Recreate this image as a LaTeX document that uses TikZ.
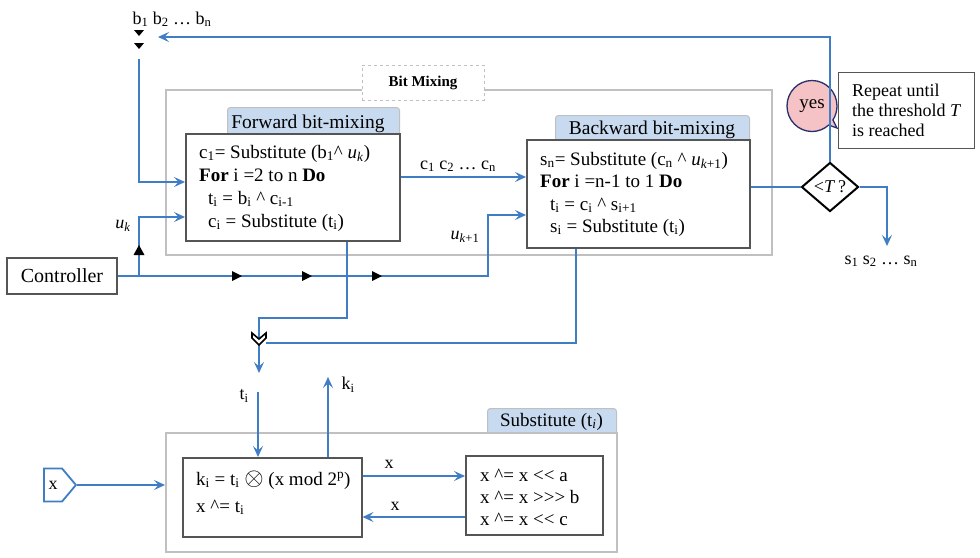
\documentclass[tikz,border=0pt]{standalone}
\usepackage{fontspec}
\setmainfont{Liberation Serif}
\usetikzlibrary{arrows.meta,shapes.geometric,shapes.callouts,shapes.symbols,calc}
\definecolor{flow}{HTML}{3F7DC4}
\definecolor{tabfill}{HTML}{C8DAF0}
\definecolor{cgray}{HTML}{C0C0C0}
\definecolor{bgray}{HTML}{555555}
\definecolor{yesfill}{HTML}{F5C3C6}
\definecolor{yesline}{HTML}{27306B}
\newcommand{\sbs}[1]{\textsubscript{#1}}
\newcommand{\spr}[1]{\textsuperscript{#1}}
\newcommand{\xor}{\textasciicircum}
\newcommand{\shl}{<\kern0pt<}
\newcommand{\shrr}{>\kern0pt>\kern0pt>}
\begin{document}
\begin{tikzpicture}[x=1pt,y=-1pt,
  flowline/.style={draw=flow,line width=2.2pt},
  arr/.style={-{Stealth[length=11pt,width=10pt,inset=4.5pt]}},
  container/.style={draw=cgray,line width=1.5pt,anchor=north west,inner sep=0,fill=white},
  tabbox/.style={draw=cgray,fill=tabfill,rounded corners=3pt,anchor=north west,inner sep=0,line width=1pt},
  proc/.style={draw=bgray,line width=1.5pt,fill=white,anchor=north west,inner sep=0},
  code/.style={anchor=base west,inner sep=0,font=\fontsize{19}{22}\selectfont},
  lbl/.style={inner sep=2pt,font=\fontsize{18}{21}\selectfont},
  tabtext/.style={anchor=base,inner sep=0,font=\fontsize{19.5}{23}\selectfont},
  tipmark/.style={fill=black},
  chev/.style={draw=black,fill=white,line width=1.6pt,line join=miter},
]
\useasboundingbox (0,0) rectangle (980,557);
\fill[white] (0,0) rectangle (980,557);

% ---------- bit mixing container ----------
\node[container,minimum width=606pt,minimum height=165pt] (mixc) at (165,89) {};
\node[draw=cgray,dashed,line width=1pt,fill=white,minimum width=122pt,minimum height=35pt,inner sep=0,
      font=\bfseries\fontsize{15}{17}\selectfont] (bitmix) at (423,82.5) {Bit Mixing};

% forward
\node[tabbox,minimum width=172pt,minimum height=32pt] (ftab) at (227,107) {};
\node[tabtext] (ftabt) at (308,128) {Forward bit-mixing};
\node[proc,minimum width=214pt,minimum height=107pt] (fwd) at (185,133) {};
\node[code] (f1) at (199,158) {c\sbs{1}= Substitute (b\sbs{1}\xor\ \textit{u}\sbs{\textit{k}})};
\node[code] (f2) at (199,181) {\textbf{For} i =2 to n \textbf{Do}};
\node[code] (f3) at (208,204) {t\sbs{i} = b\sbs{i} \xor\ c\sbs{i-1}};
\node[code] (f4) at (208,227) {c\sbs{i} = Substitute (t\sbs{i})};

% backward
\node[tabbox,minimum width=194pt,minimum height=30pt] (btab) at (555,115) {};
\node[tabtext] (btabt) at (652,134) {Backward bit-mixing};
\node[proc,minimum width=223pt,minimum height=108pt] (bwd) at (526,139) {};
\node[code] (g1) at (540,165) {s\sbs{n}= Substitute (c\sbs{n} \xor\ \textit{u}\sbs{\textit{k}+1})};
\node[code] (g2) at (540,187) {\textbf{For} i =n-1 to 1 \textbf{Do}};
\node[code] (g3) at (550,210) {t\sbs{i} = c\sbs{i} \xor\ s\sbs{i+1}};
\node[code] (g4) at (550,232) {s\sbs{i} = Substitute (t\sbs{i})};

% controller
\node[draw=bgray,line width=1.3pt,minimum width=110pt,minimum height=36pt,inner sep=0,
      font=\fontsize{20}{24}\selectfont] (ctrl) at (62,276) {Controller};

% decision and note
\node[ellipse callout,draw=yesline,fill=yesfill,line width=1.3pt,minimum width=50pt,minimum height=51pt,
      inner sep=0,font=\fontsize{19}{22}\selectfont,callout absolute pointer={(837,128)}] (yes) at (812,106) {yes};
\node[diamond,draw=black,line width=2pt,minimum width=57pt,minimum height=49pt,inner sep=0,
      font=\fontsize{18}{20}\selectfont,fill=white] (dia) at (830,187) {<\textit{T}\,?};

% labels
\node[lbl,anchor=base] (bs) at (172,24) {b\sbs{1} b\sbs{2} … b\sbs{n}};
\node[lbl,anchor=base] (clbl) at (458,169) {c\sbs{1} c\sbs{2} … c\sbs{n}};
\node[lbl] (uklbl) at (123,226) {\textit{u}\sbs{\textit{k}}};
\node[lbl] (uk1lbl) at (465,237) {\textit{u}\sbs{\textit{k}+1}};
\node[lbl,anchor=base] (sout) at (881,264) {s\sbs{1} s\sbs{2} … s\sbs{n}};

% ---------- connectors (upper part) ----------
\coordinate (bdown) at (139,59);
\draw[flowline,arr] (bdown) |- ($(fwd.north west)+(0,49)$);
\fill[tipmark] (134,30) -- (144,30) -- (139,36) -- cycle;
\fill[tipmark] (134,43) -- (144,43) -- (139,49) -- cycle;

\coordinate (loopend) at (158,37);
\draw[flowline,arr] (dia.north) |- (loopend);

\coordinate (ukx) at (139,0);
\coordinate (uk1x) at (488,0);
\draw[flowline,arr] (ctrl.east) -- (ctrl.east -| uk1x) |- ($(bwd.north west)+(0,76)$);
\draw[flowline,arr] (ctrl.east -| ukx) |- ($(fwd.north west)+(0,84)$);
\foreach \px in {237,307,377} \fill[tipmark] (\px-5,271) -- (\px+5,276) -- (\px-5,281) -- cycle;
\fill[tipmark] (133.5,255) -- (144.5,255) -- (139,245) -- cycle;

\draw[flowline,arr] ($(fwd.north east)+(0,44)$) -- ($(bwd.north west)+(0,38)$);
\draw[flowline] (bwd.east |- dia.west) -- (dia.west);
\coordinate (sx) at (887,246);
\draw[flowline,arr] (dia.east) -| (sx);

% merge
\coordinate (mrg) at (259,339);
\coordinate (fx) at (347,318);
\coordinate (mrgout) at (259,373);
\coordinate (bx) at (576,343);
\draw[flowline,arr] (fwd.south -| fx) -- (fx) -| (mrgout);
\draw[flowline] (bwd.south -| bx) |- ($(mrg)+(7,4)$);
\draw[chev,shift={(mrg)}] (-7,-6) -- (0,0) -- (7,-6) -- (7,-1) -- (0,6) -- (-7,-1) -- cycle;

% note box
\node[draw=bgray,line width=1.3pt,fill=white,anchor=north west,minimum width=136pt,minimum height=76pt,
      inner sep=0] (note) at (838,72) {};
\node[anchor=north west,align=left,inner sep=0,font=\fontsize{18}{20}\selectfont] (notetext) at (852,84)
      {Repeat until\\the threshold \textit{T}\\is reached};

% ---------- substitute part ----------
\node[tabbox,minimum width=129pt,minimum height=28pt] (stab) at (487,408) {};
\node[container,minimum width=451pt,minimum height=119pt] (subc) at (165,432) {};
\node[tabtext,font=\fontsize{19}{22}\selectfont] (stabt) at (551.5,426) {Substitute (t\sbs{\textit{i}})};

\node[proc,minimum width=179pt,minimum height=79pt] (boxA) at (182,457) {};
\node[code] (a1) at (196,485) {k\sbs{i} = t\sbs{i} {\fontsize{25}{25}\selectfont$\otimes$} (x mod 2\spr{p})};
\node[code] (a2) at (196,512) {x \xor= t\sbs{i}};

\node[proc,minimum width=137pt,minimum height=79pt] (boxB) at (465,455) {};
\node[code] (b1) at (480,481) {x \xor= x \shl\ a};
\node[code] (b2) at (480,503) {x \xor= x \shrr\ b};
\node[code] (b3) at (480,525) {x \xor= x \shl\ c};

\coordinate (tstart) at (258,392);
\draw[flowline,arr] (tstart) -- (tstart |- boxA.north);
\node[lbl] (tlbl) at (244,396) {t\sbs{i}};
\coordinate (kend) at (328,377);
\draw[flowline,arr] (kend |- boxA.north) -- (kend);
\node[lbl] (klbl) at (348,385) {k\sbs{i}};

\draw[flowline,arr] ($(boxA.north east)+(0,19)$) -- ($(boxB.north west)+(0,21)$);
\node[lbl] (xf) at (389,464) {x};
\draw[flowline,arr] ($(boxB.north west)+(0,62)$) -- ($(boxA.north east)+(0,60)$);
\node[lbl] (xb) at (395,506) {x};

\node[signal,signal to=east,signal pointer angle=100,draw=flow,line width=1.8pt,minimum width=32pt,
      minimum height=33pt,inner sep=0,font=\fontsize{18}{20}\selectfont] (xin) at (53,485) {x};
\draw[flowline,arr] (xin.east) -- (subc.west |- xin.east);
\end{tikzpicture}
\end{document}
